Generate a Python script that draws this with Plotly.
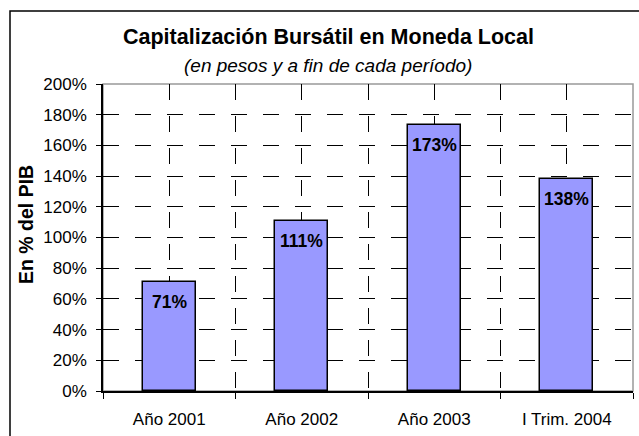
import plotly.graph_objects as go

categories = ["Año 2001", "Año 2002", "Año 2003", "I Trim. 2004"]
values = [71, 111, 173, 138]
y_ticks = [0, 20, 40, 60, 80, 100, 120, 140, 160, 180, 200]
y_tick_labels = [f"{v}%" for v in y_ticks]
title_text = "Capitalización Bursátil en Moneda Local"
subtitle_text = "(en pesos y a fin de cada período)"
y_title = "En % del PIB"

FONT = "Liberation Sans, Arial, sans-serif"
xpos = list(range(len(categories)))
boundaries = [i - 0.5 for i in range(len(categories) + 1)]

fig = go.Figure()
fig.add_trace(go.Bar(
    x=xpos, y=values, width=0.4,
    marker=dict(color="#9999FF", line=dict(color="#000000", width=1.5)),
    hoverinfo="skip",
))

for x, v in zip(xpos, values):
    fig.add_annotation(x=x, y=v, xref="x", yref="y", text=f"<b>{v}%</b>",
                       showarrow=False, yanchor="middle", yshift=-20,
                       font=dict(family=FONT, size=17.5, color="#000"))

fig.update_layout(
    width=639, height=436,
    margin=dict(l=103, r=6, t=84, b=45),
    paper_bgcolor="white", plot_bgcolor="white",
    showlegend=False,
    bargap=0,
    font=dict(family=FONT, color="#000"),
)

fig.update_xaxes(
    range=[-0.5, 3.5], tickmode="array", tickvals=xpos, ticktext=categories,
    ticks="", showgrid=True, gridcolor="#000", gridwidth=1, griddash="16px,16px",
    tickfont=dict(family=FONT, size=17, color="#000"),
    ticklabelstandoff=12,
    showline=True, linecolor="#000", linewidth=1.5,
    minor=dict(tickvals=boundaries, ticks="outside", ticklen=6, tickcolor="#000",
               tickwidth=1, showgrid=True, gridcolor="#000", gridwidth=1,
               griddash="16px,16px"),
    zeroline=False, fixedrange=True,
)
fig.update_yaxes(
    range=[0, 200], tickmode="array", tickvals=y_ticks, ticktext=y_tick_labels,
    ticks="outside", ticklen=5, tickcolor="#000", tickwidth=1,
    showgrid=True, gridcolor="#000", gridwidth=1, griddash="16px,16px",
    tickfont=dict(family=FONT, size=17, color="#000"),
    ticklabelstandoff=6,
    showline=True, linecolor="#000", linewidth=1.5,
    zeroline=False, fixedrange=True,
)

# plot area border (grey top/right)
fig.add_shape(type="rect", xref="paper", yref="paper", x0=0, y0=0, x1=1, y1=1,
              line=dict(color="#999999", width=1.5), layer="below")
# outer chart border
fig.add_shape(type="rect", xref="paper", yref="paper",
              x0=(10 - 103) / 530, x1=(645 - 103) / 530,
              y0=(391 - 445) / 307, y1=1 + (84 - 11) / 307,
              line=dict(color="#000", width=1.5), layer="below")

cx = (328 - 103) / 530
fig.add_annotation(xref="paper", yref="paper", x=cx, y=1 + (84 - 37) / 307,
                   text=f"<b>{title_text}</b>", showarrow=False,
                   xanchor="center", yanchor="middle",
                   font=dict(family=FONT, size=21.5, color="#000"))
fig.add_annotation(xref="paper", yref="paper", x=cx, y=1 + (84 - 65) / 307,
                   text=f"<i>{subtitle_text}</i>", showarrow=False,
                   xanchor="center", yanchor="middle",
                   font=dict(family=FONT, size=19, color="#000"))
fig.add_annotation(xref="paper", yref="paper", x=(26 - 103) / 530, y=(391 - 225) / 307,
                   text=f"<b>{y_title}</b>", showarrow=False, textangle=-90,
                   xanchor="center", yanchor="middle",
                   font=dict(family=FONT, size=19.5, color="#000"))

fig.write_html(
    "out.html",
    config={"displayModeBar": False},
    post_script="document.body.style.margin='0';document.body.style.overflow='hidden';",
)
